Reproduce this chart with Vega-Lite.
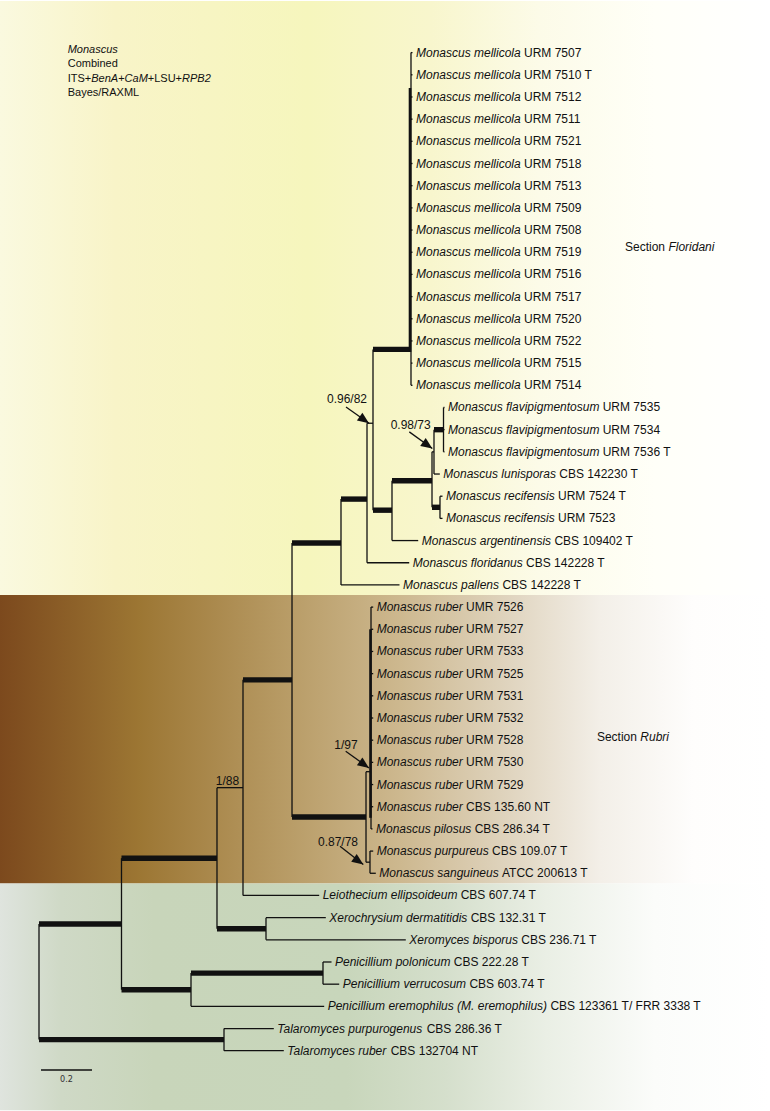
{
  "$schema": "https://vega.github.io/schema/vega-lite/v6.json",
  "width": 770,
  "height": 1111,
  "autosize": {"type": "fit", "contains": "padding"},
  "padding": 0,
  "background": "white",
  "view": {"stroke": null},
  "config": {"font": "Liberation Sans"},
  "datasets": {
    "bands": [
      {"section": "Floridani", "y0": -2.33, "y1": 24.45},
      {"section": "Rubri", "y0": 24.45, "y1": 37.46},
      {"section": "Outgroup", "y0": 37.46, "y1": 47.68}
    ],
    "tips": [
      {"idx": 0, "species": "Monascus mellicola", "strain": "URM 7507", "px": 1.4588, "x": 1.4647},
      {"idx": 1, "species": "Monascus mellicola", "strain": "URM 7510 T", "px": 1.4588, "x": 1.4647},
      {"idx": 2, "species": "Monascus mellicola", "strain": "URM 7512", "px": 1.4588, "x": 1.4647},
      {"idx": 3, "species": "Monascus mellicola", "strain": "URM 7511", "px": 1.4588, "x": 1.4647},
      {"idx": 4, "species": "Monascus mellicola", "strain": "URM 7521", "px": 1.4588, "x": 1.4647},
      {"idx": 5, "species": "Monascus mellicola", "strain": "URM 7518", "px": 1.4588, "x": 1.4647},
      {"idx": 6, "species": "Monascus mellicola", "strain": "URM 7513", "px": 1.4588, "x": 1.4647},
      {"idx": 7, "species": "Monascus mellicola", "strain": "URM 7509", "px": 1.4588, "x": 1.4647},
      {"idx": 8, "species": "Monascus mellicola", "strain": "URM 7508", "px": 1.4588, "x": 1.4647},
      {"idx": 9, "species": "Monascus mellicola", "strain": "URM 7519", "px": 1.4588, "x": 1.4647},
      {"idx": 10, "species": "Monascus mellicola", "strain": "URM 7516", "px": 1.4588, "x": 1.4647},
      {"idx": 11, "species": "Monascus mellicola", "strain": "URM 7517", "px": 1.4588, "x": 1.4647},
      {"idx": 12, "species": "Monascus mellicola", "strain": "URM 7520", "px": 1.4588, "x": 1.4647},
      {"idx": 13, "species": "Monascus mellicola", "strain": "URM 7522", "px": 1.4588, "x": 1.4647},
      {"idx": 14, "species": "Monascus mellicola", "strain": "URM 7515", "px": 1.4588, "x": 1.4647},
      {"idx": 15, "species": "Monascus mellicola", "strain": "URM 7514", "px": 1.4588, "x": 1.4647},
      {"idx": 16, "species": "Monascus flavipigmentosum", "strain": "URM 7535", "px": 1.5863, "x": 1.5902},
      {"idx": 17, "species": "Monascus flavipigmentosum", "strain": "URM 7534", "px": 1.5863, "x": 1.5902},
      {"idx": 18, "species": "Monascus flavipigmentosum", "strain": "URM 7536 T", "px": 1.5863, "x": 1.5902},
      {"idx": 19, "species": "Monascus lunisporas", "strain": "CBS 142230 T", "px": 1.549, "x": 1.5718},
      {"idx": 20, "species": "Monascus recifensis", "strain": "URM 7524 T", "px": 1.5725, "x": 1.5824},
      {"idx": 21, "species": "Monascus recifensis", "strain": "URM 7523", "px": 1.5725, "x": 1.5824},
      {"idx": 22, "species": "Monascus argentinensis", "strain": "CBS 109402 T", "px": 1.3843, "x": 1.4871},
      {"idx": 23, "species": "Monascus floridanus", "strain": "CBS 142228 T", "px": 1.2863, "x": 1.4518},
      {"idx": 24, "species": "Monascus pallens", "strain": "CBS 142228 T", "px": 1.1843, "x": 1.4137},
      {"idx": 25, "species": "Monascus ruber", "strain": "UMR 7526", "px": 1.302, "x": 1.3106},
      {"idx": 26, "species": "Monascus ruber", "strain": "URM 7527", "px": 1.302, "x": 1.3106},
      {"idx": 27, "species": "Monascus ruber", "strain": "URM 7533", "px": 1.302, "x": 1.3106},
      {"idx": 28, "species": "Monascus ruber", "strain": "URM 7525", "px": 1.302, "x": 1.3106},
      {"idx": 29, "species": "Monascus ruber", "strain": "URM 7531", "px": 1.302, "x": 1.3106},
      {"idx": 30, "species": "Monascus ruber", "strain": "URM 7532", "px": 1.302, "x": 1.3106},
      {"idx": 31, "species": "Monascus ruber", "strain": "URM 7528", "px": 1.302, "x": 1.3106},
      {"idx": 32, "species": "Monascus ruber", "strain": "URM 7530", "px": 1.302, "x": 1.3106},
      {"idx": 33, "species": "Monascus ruber", "strain": "URM 7529", "px": 1.302, "x": 1.3106},
      {"idx": 34, "species": "Monascus ruber", "strain": "CBS 135.60 NT", "px": 1.302, "x": 1.3106},
      {"idx": 35, "species": "Monascus pilosus", "strain": "CBS 286.34 T", "px": 1.302, "x": 1.3078},
      {"idx": 36, "species": "Monascus purpureus", "strain": "CBS 109.07 T", "px": 1.298, "x": 1.3106},
      {"idx": 37, "species": "Monascus sanguineus", "strain": "ATCC 200613 T", "px": 1.298, "x": 1.3208},
      {"idx": 38, "species": "Leiothecium ellipsoideum", "strain": "CBS 607.74 T", "px": 0.8, "x": 1.0988},
      {"idx": 39, "species": "Xerochrysium dermatitidis", "strain": "CBS 132.31 T", "px": 0.8902, "x": 1.1247},
      {"idx": 40, "species": "Xeromyces bisporus", "strain": "CBS 236.71 T", "px": 0.8902, "x": 1.4384},
      {"idx": 41, "species": "Penicillium polonicum", "strain": "CBS 222.28 T", "px": 1.1137, "x": 1.1471},
      {"idx": 42, "species": "Penicillium verrucosum", "strain": "CBS 603.74 T", "px": 1.1137, "x": 1.1773},
      {"idx": 43, "species": "Penicillium eremophilus (M. eremophilus)", "strain": "CBS 123361 T/ FRR 3338 T", "px": 0.5961, "x": 1.1184},
      {"idx": 44, "species": "Talaromyces purpurogenus", "strain": "CBS 286.36 T", "px": 0.7255, "x": 0.9208},
      {"idx": 45, "species": "Talaromyces ruber", "strain": "CBS 132704 NT", "px": 0.7255, "x": 0.96}
    ],
    "branches": [
      {"x1": 0, "x2": 0, "y1": 39.29, "y2": 44.5, "support": "weak"},
      {"x1": 0.3235, "x2": 0.3235, "y1": 36.32, "y2": 42.25, "support": "weak"},
      {"x1": 0.698, "x2": 0.698, "y1": 33.14, "y2": 39.5, "support": "weak"},
      {"x1": 0.8, "x2": 0.8, "y1": 28.28, "y2": 38, "support": "weak"},
      {"x1": 0.9922, "x2": 0.9922, "y1": 22.11, "y2": 34.46, "support": "weak"},
      {"x1": 1.1843, "x2": 1.1843, "y1": 20.13, "y2": 24, "support": "weak"},
      {"x1": 1.2863, "x2": 1.2863, "y1": 16.71, "y2": 23, "support": "weak"},
      {"x1": 1.3098, "x2": 1.3098, "y1": 13.38, "y2": 20.63, "support": "weak"},
      {"x1": 1.4588, "x2": 1.4588, "y1": 0, "y2": 15, "support": "weak"},
      {"x1": 1.4549, "x2": 1.4549, "y1": 1.6, "y2": 13.5, "support": "moderate"},
      {"x1": 1.3843, "x2": 1.3843, "y1": 19.3, "y2": 22, "support": "weak"},
      {"x1": 1.5412, "x2": 1.5412, "y1": 18, "y2": 20.5, "support": "weak"},
      {"x1": 1.549, "x2": 1.549, "y1": 17, "y2": 19, "support": "weak"},
      {"x1": 1.5863, "x2": 1.5863, "y1": 16, "y2": 18, "support": "weak"},
      {"x1": 1.5725, "x2": 1.5725, "y1": 20, "y2": 21, "support": "weak"},
      {"x1": 1.2824, "x2": 1.2824, "y1": 32.42, "y2": 36.5, "support": "weak"},
      {"x1": 1.302, "x2": 1.302, "y1": 25, "y2": 35, "support": "weak"},
      {"x1": 1.3, "x2": 1.3, "y1": 26, "y2": 34.5, "support": "moderate"},
      {"x1": 1.298, "x2": 1.298, "y1": 36, "y2": 37, "support": "weak"},
      {"x1": 0.8902, "x2": 0.8902, "y1": 39, "y2": 40, "support": "weak"},
      {"x1": 0.5961, "x2": 0.5961, "y1": 41.5, "y2": 43, "support": "weak"},
      {"x1": 1.1137, "x2": 1.1137, "y1": 41, "y2": 42, "support": "weak"},
      {"x1": 0.7255, "x2": 0.7255, "y1": 44, "y2": 45, "support": "weak"},
      {"x1": 0, "x2": 0.3235, "y1": 39.29, "y2": 39.29, "support": "strong"},
      {"x1": 0, "x2": 0.7255, "y1": 44.5, "y2": 44.5, "support": "strong"},
      {"x1": 0.3235, "x2": 0.698, "y1": 36.32, "y2": 36.32, "support": "strong"},
      {"x1": 0.3235, "x2": 0.5961, "y1": 42.25, "y2": 42.25, "support": "strong"},
      {"x1": 0.5961, "x2": 1.1137, "y1": 41.5, "y2": 41.5, "support": "strong"},
      {"x1": 0.698, "x2": 0.8, "y1": 33.14, "y2": 33.14, "support": "weak"},
      {"x1": 0.698, "x2": 0.8902, "y1": 39.5, "y2": 39.5, "support": "strong"},
      {"x1": 0.8, "x2": 0.9922, "y1": 28.28, "y2": 28.28, "support": "strong"},
      {"x1": 0.9922, "x2": 1.1843, "y1": 22.11, "y2": 22.11, "support": "strong"},
      {"x1": 0.9922, "x2": 1.2824, "y1": 34.46, "y2": 34.46, "support": "strong"},
      {"x1": 1.1843, "x2": 1.2863, "y1": 20.13, "y2": 20.13, "support": "strong"},
      {"x1": 1.2863, "x2": 1.3098, "y1": 16.71, "y2": 16.71, "support": "weak"},
      {"x1": 1.3098, "x2": 1.4549, "y1": 13.38, "y2": 13.38, "support": "strong"},
      {"x1": 1.3098, "x2": 1.3843, "y1": 20.63, "y2": 20.63, "support": "strong"},
      {"x1": 1.3843, "x2": 1.5412, "y1": 19.3, "y2": 19.3, "support": "strong"},
      {"x1": 1.5412, "x2": 1.549, "y1": 18, "y2": 18, "support": "weak"},
      {"x1": 1.549, "x2": 1.5863, "y1": 17, "y2": 17, "support": "strong"},
      {"x1": 1.5412, "x2": 1.5725, "y1": 20.5, "y2": 20.5, "support": "strong"},
      {"x1": 1.2824, "x2": 1.302, "y1": 32.42, "y2": 32.42, "support": "weak"},
      {"x1": 1.2824, "x2": 1.298, "y1": 36.5, "y2": 36.5, "support": "weak"}
    ],
    "supportLabels": [
      {"label": "0.96/82", "tx": 1.2078, "ty": 15.62},
      {"label": "0.98/73", "tx": 1.4576, "ty": 16.8},
      {"label": "1/97", "tx": 1.2039, "ty": 31.2},
      {"label": "0.87/78", "tx": 1.1725, "ty": 35.61},
      {"label": "1/88", "tx": 0.7392, "ty": 32.82}
    ],
    "arrows": [
      {"label": "0.96/82", "ax1": 1.2039, "ay1": 15.98, "ax2": 1.2941, "ay2": 16.71},
      {"label": "0.98/73", "ax1": 1.4522, "ay1": 17.1, "ax2": 1.5424, "ay2": 17.85},
      {"label": "1/97", "ax1": 1.2027, "ay1": 31.5, "ax2": 1.2941, "ay2": 32.25},
      {"label": "0.87/78", "ax1": 1.1804, "ay1": 35.78, "ax2": 1.2718, "ay2": 36.6}
    ],
    "header": [
      {"text": "Monascus", "x": 0.1125, "y": -0.12, "taxonOrGene": true},
      {"text": "Combined", "x": 0.1125, "y": 0.522, "taxonOrGene": false},
      {"text": "ITS+", "x": 0.1125, "y": 1.17, "taxonOrGene": false},
      {"text": "BenA", "x": 0.2049, "y": 1.17, "taxonOrGene": true},
      {"text": "+", "x": 0.3104, "y": 1.17, "taxonOrGene": false},
      {"text": "CaM", "x": 0.3356, "y": 1.17, "taxonOrGene": true},
      {"text": "+LSU+", "x": 0.4266, "y": 1.17, "taxonOrGene": false},
      {"text": "RPB2", "x": 0.5609, "y": 1.17, "taxonOrGene": true},
      {"text": "Bayes/RAXML", "x": 0.1125, "y": 1.827, "taxonOrGene": false}
    ],
    "sections": [
      {"name": "Floridani", "x": 2.298, "y": 8.744},
      {"name": "Rubri", "x": 2.188, "y": 30.84}
    ],
    "scalebar": [
      {"label": "0.2", "x0": 0.0078, "x1": 0.2078, "y": 45.87, "lx": 0.1078, "ly": 46.28}
    ]
  },
  "layer": [
    {
      "data": {"name": "bands"},
      "transform": [{"filter": "datum.section === 'Floridani'"}],
      "mark": {"type": "rect", "color": {"gradient": "linear", "x1": 0, "y1": 0, "x2": 1, "y2": 0,
        "stops": [
          {"offset": 0, "color": "#FAF9DF"},
          {"offset": 0.15, "color": "#F8F4C8"},
          {"offset": 0.4, "color": "#F6F6BD"},
          {"offset": 0.56, "color": "#F8F6CD"},
          {"offset": 0.7, "color": "#FCFBE8"},
          {"offset": 0.85, "color": "#FFFFF8"},
          {"offset": 1, "color": "#FFFFFF"}]}},
      "encoding": {
        "x": {"value": 0}, "x2": {"value": "width"},
        "y": {"field": "y0", "type": "quantitative", "scale": {"domain": [-2.3267, 47.673], "reverse": true, "nice": false, "zero": false}, "axis": null},
        "y2": {"field": "y1"}
      }
    },
    {
      "data": {"name": "bands"},
      "transform": [{"filter": "datum.section === 'Rubri'"}],
      "mark": {"type": "rect", "color": {"gradient": "linear", "x1": 0, "y1": 0, "x2": 1, "y2": 0,
        "stops": [
          {"offset": 0, "color": "#7C491D"},
          {"offset": 0.18, "color": "#9C7633"},
          {"offset": 0.38, "color": "#B99D68"},
          {"offset": 0.52, "color": "#CDB88F"},
          {"offset": 0.65, "color": "#DED2BB"},
          {"offset": 0.78, "color": "#F3EFE8"},
          {"offset": 0.9, "color": "#FEFDFC"},
          {"offset": 1, "color": "#FFFFFF"}]}},
      "encoding": {
        "x": {"value": 0}, "x2": {"value": "width"},
        "y": {"field": "y0", "type": "quantitative", "scale": {"domain": [-2.3267, 47.673], "reverse": true, "nice": false, "zero": false}, "axis": null},
        "y2": {"field": "y1"}
      }
    },
    {
      "data": {"name": "bands"},
      "transform": [{"filter": "datum.section === 'Outgroup'"}],
      "mark": {"type": "rect", "color": {"gradient": "linear", "x1": 0, "y1": 0, "x2": 1, "y2": 0,
        "stops": [
          {"offset": 0, "color": "#DFE4DE"},
          {"offset": 0.08, "color": "#CFD9C6"},
          {"offset": 0.2, "color": "#C8D5BA"},
          {"offset": 0.45, "color": "#C8D6BB"},
          {"offset": 0.58, "color": "#D5DFCC"},
          {"offset": 0.71, "color": "#EAEFE5"},
          {"offset": 0.85, "color": "#FBFCFA"},
          {"offset": 1, "color": "#FFFFFF"}]}},
      "encoding": {
        "x": {"value": 0}, "x2": {"value": "width"},
        "y": {"field": "y0", "type": "quantitative", "scale": {"domain": [-2.3267, 47.673], "reverse": true, "nice": false, "zero": false}, "axis": null},
        "y2": {"field": "y1"}
      }
    },
    {
      "data": {"name": "branches"},
      "mark": {"type": "rule", "color": "#111111", "strokeCap": "butt"},
      "encoding": {
        "x": {"field": "x1", "type": "quantitative", "scale": {"domain": [-0.15294, 2.86667], "nice": false, "zero": false}, "axis": null},
        "x2": {"field": "x2"},
        "y": {"field": "y1", "type": "quantitative", "scale": {"domain": [-2.3267, 47.673], "reverse": true, "nice": false, "zero": false}, "axis": null},
        "y2": {"field": "y2"},
        "strokeWidth": {"field": "support", "type": "ordinal", "scale": {"type": "ordinal", "domain": ["weak", "moderate", "strong"], "range": [1.3, 2.6, 5.4]}, "legend": null}
      }
    },
    {
      "data": {"name": "tips"},
      "mark": {"type": "rule", "color": "#111111", "strokeWidth": 1.3},
      "encoding": {
        "x": {"field": "px", "type": "quantitative", "scale": {"domain": [-0.15294, 2.86667], "nice": false, "zero": false}, "axis": null},
        "x2": {"field": "x"},
        "y": {"field": "idx", "type": "quantitative", "scale": {"domain": [-2.3267, 47.673], "reverse": true, "nice": false, "zero": false}, "axis": null}
      }
    },
    {
      "data": {"name": "tips"},
      "mark": {"type": "text", "align": "left", "baseline": "middle", "dx": 3.5, "fontSize": 12, "fontStyle": "italic", "color": "#111111"},
      "encoding": {
        "x": {"field": "x", "type": "quantitative", "scale": {"domain": [-0.15294, 2.86667], "nice": false, "zero": false}, "axis": null},
        "y": {"field": "idx", "type": "quantitative", "scale": {"domain": [-2.3267, 47.673], "reverse": true, "nice": false, "zero": false}, "axis": null},
        "text": {"field": "species"}
      }
    },
    {
      "data": {"name": "tips"},
      "mark": {"type": "text", "align": "left", "baseline": "middle", "fontSize": 12, "color": "#111111",
        "dx": {"expr": "3.5 + (datum.species == 'Monascus mellicola' ? 108.0 : datum.species == 'Monascus flavipigmentosum' ? 154.7 : datum.species == 'Monascus lunisporas' ? 116.0 : datum.species == 'Monascus recifensis' ? 112.0 : datum.species == 'Monascus argentinensis' ? 132.7 : datum.species == 'Monascus floridanus' ? 113.4 : datum.species == 'Monascus pallens' ? 99.4 : datum.species == 'Monascus ruber' ? 89.4 : datum.species == 'Monascus pilosus' ? 98.7 : datum.species == 'Monascus purpureus' ? 115.4 : datum.species == 'Monascus sanguineus' ? 122.7 : datum.species == 'Leiothecium ellipsoideum' ? 138.0 : datum.species == 'Xerochrysium dermatitidis' ? 141.4 : datum.species == 'Xeromyces bisporus' ? 112.0 : datum.species == 'Penicillium polonicum' ? 118.7 : datum.species == 'Penicillium verrucosum' ? 126.7 : datum.species == 'Penicillium eremophilus (M. eremophilus)' ? 222.7 : datum.species == 'Talaromyces purpurogenus' ? 149.4 : 103.4)"}},
      "encoding": {
        "x": {"field": "x", "type": "quantitative", "scale": {"domain": [-0.15294, 2.86667], "nice": false, "zero": false}, "axis": null},
        "y": {"field": "idx", "type": "quantitative", "scale": {"domain": [-2.3267, 47.673], "reverse": true, "nice": false, "zero": false}, "axis": null},
        "text": {"field": "strain"}
      }
    },
    {
      "data": {"name": "arrows"},
      "mark": {"type": "rule", "color": "#111111", "strokeWidth": 1.3},
      "encoding": {
        "x": {"field": "ax1", "type": "quantitative", "scale": {"domain": [-0.15294, 2.86667], "nice": false, "zero": false}, "axis": null},
        "x2": {"field": "ax2"},
        "y": {"field": "ay1", "type": "quantitative", "scale": {"domain": [-2.3267, 47.673], "reverse": true, "nice": false, "zero": false}, "axis": null},
        "y2": {"field": "ay2"}
      }
    },
    {
      "data": {"name": "arrows"},
      "mark": {"type": "point", "shape": "M0,0L-1,-0.42L-1,0.42Z", "size": 520, "angle": 35, "filled": true, "color": "#111111", "opacity": 1},
      "encoding": {
        "x": {"field": "ax2", "type": "quantitative", "scale": {"domain": [-0.15294, 2.86667], "nice": false, "zero": false}, "axis": null},
        "y": {"field": "ay2", "type": "quantitative", "scale": {"domain": [-2.3267, 47.673], "reverse": true, "nice": false, "zero": false}, "axis": null}
      }
    },
    {
      "data": {"name": "supportLabels"},
      "mark": {"type": "text", "align": "center", "baseline": "middle", "fontSize": 12, "color": "#111111"},
      "encoding": {
        "x": {"field": "tx", "type": "quantitative", "scale": {"domain": [-0.15294, 2.86667], "nice": false, "zero": false}, "axis": null},
        "y": {"field": "ty", "type": "quantitative", "scale": {"domain": [-2.3267, 47.673], "reverse": true, "nice": false, "zero": false}, "axis": null},
        "text": {"field": "label"}
      }
    },
    {
      "data": {"name": "header"},
      "transform": [{"filter": "datum.taxonOrGene"}],
      "mark": {"type": "text", "align": "left", "baseline": "middle", "fontSize": 11, "fontStyle": "italic", "color": "#111111"},
      "encoding": {
        "x": {"field": "x", "type": "quantitative", "scale": {"domain": [-0.15294, 2.86667], "nice": false, "zero": false}, "axis": null},
        "y": {"field": "y", "type": "quantitative", "scale": {"domain": [-2.3267, 47.673], "reverse": true, "nice": false, "zero": false}, "axis": null},
        "text": {"field": "text"}
      }
    },
    {
      "data": {"name": "header"},
      "transform": [{"filter": "!datum.taxonOrGene"}],
      "mark": {"type": "text", "align": "left", "baseline": "middle", "fontSize": 11, "color": "#111111"},
      "encoding": {
        "x": {"field": "x", "type": "quantitative", "scale": {"domain": [-0.15294, 2.86667], "nice": false, "zero": false}, "axis": null},
        "y": {"field": "y", "type": "quantitative", "scale": {"domain": [-2.3267, 47.673], "reverse": true, "nice": false, "zero": false}, "axis": null},
        "text": {"field": "text"}
      }
    },
    {
      "data": {"name": "sections"},
      "mark": {"type": "text", "align": "left", "baseline": "middle", "fontSize": 12, "color": "#111111"},
      "encoding": {
        "x": {"field": "x", "type": "quantitative", "scale": {"domain": [-0.15294, 2.86667], "nice": false, "zero": false}, "axis": null},
        "y": {"field": "y", "type": "quantitative", "scale": {"domain": [-2.3267, 47.673], "reverse": true, "nice": false, "zero": false}, "axis": null},
        "text": {"value": "Section"}
      }
    },
    {
      "data": {"name": "sections"},
      "mark": {"type": "text", "align": "left", "baseline": "middle", "fontSize": 12, "fontStyle": "italic", "dx": 43.4, "color": "#111111"},
      "encoding": {
        "x": {"field": "x", "type": "quantitative", "scale": {"domain": [-0.15294, 2.86667], "nice": false, "zero": false}, "axis": null},
        "y": {"field": "y", "type": "quantitative", "scale": {"domain": [-2.3267, 47.673], "reverse": true, "nice": false, "zero": false}, "axis": null},
        "text": {"field": "name"}
      }
    },
    {
      "data": {"name": "scalebar"},
      "mark": {"type": "rule", "color": "#111111", "strokeWidth": 1.3},
      "encoding": {
        "x": {"field": "x0", "type": "quantitative", "scale": {"domain": [-0.15294, 2.86667], "nice": false, "zero": false}, "axis": null},
        "x2": {"field": "x1"},
        "y": {"field": "y", "type": "quantitative", "scale": {"domain": [-2.3267, 47.673], "reverse": true, "nice": false, "zero": false}, "axis": null}
      }
    },
    {
      "data": {"name": "scalebar"},
      "mark": {"type": "text", "align": "center", "baseline": "middle", "fontSize": 9, "font": "DejaVu Sans Condensed, DejaVu Sans", "color": "#333333"},
      "encoding": {
        "x": {"field": "lx", "type": "quantitative", "scale": {"domain": [-0.15294, 2.86667], "nice": false, "zero": false}, "axis": null},
        "y": {"field": "ly", "type": "quantitative", "scale": {"domain": [-2.3267, 47.673], "reverse": true, "nice": false, "zero": false}, "axis": null},
        "text": {"field": "label"}
      }
    }
  ]
}
